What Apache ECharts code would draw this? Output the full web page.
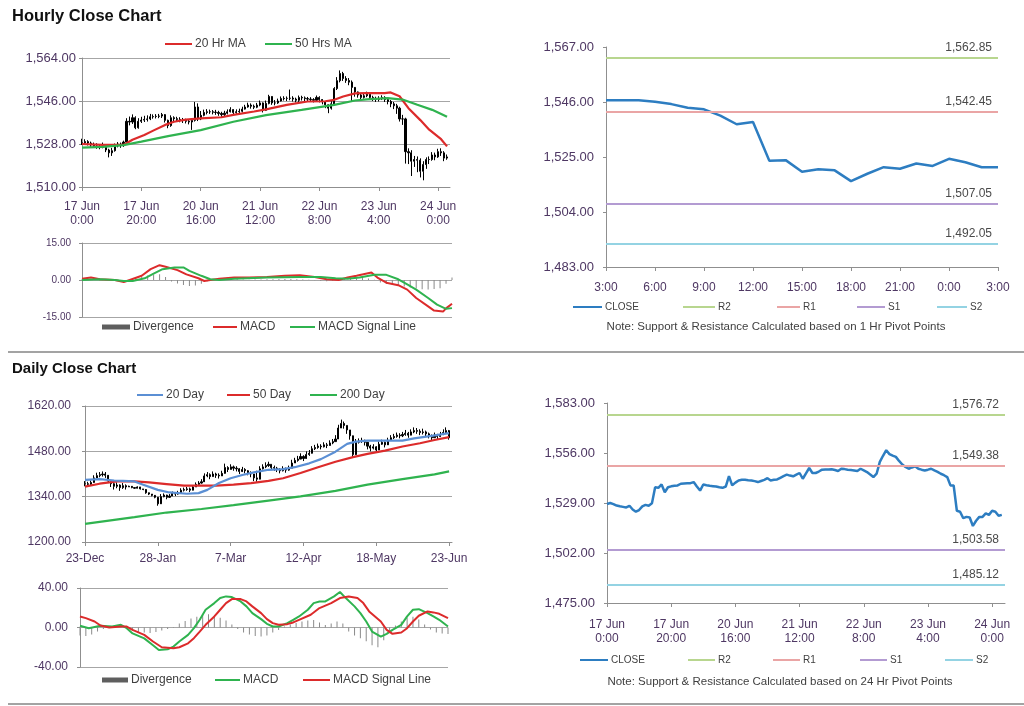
<!DOCTYPE html>
<html><head><meta charset="utf-8">
<script src="https://cdn.jsdelivr.net/npm/echarts@6/dist/echarts.min.js"></script>
<style>html,body{margin:0;padding:0;background:#fff}#c{width:1024px;height:706px}</style>
</head><body><div id="c"></div>
<script>
// ---------- tick labels ----------
const hourTicks = ['17 Jun\n0:00','17 Jun\n20:00','20 Jun\n16:00','21 Jun\n12:00','22 Jun\n8:00','23 Jun\n4:00','24 Jun\n0:00'];
const dayTicks = ['23-Dec','28-Jan','7-Mar','12-Apr','18-May','23-Jun'];
const pivotTicks = ['3:00','6:00','9:00','12:00','15:00','18:00','21:00','0:00','3:00'];

// ---------- hourly data ----------
const hClose = [1528.5,1529,1528.4,1527.6,1527.2,1526.9,1526.6,1527.5,1525.5,1524.3,
1525.2,1527.2,1528,1527.5,1528.8,1537.5,1537.2,1539,1534.8,1537.5,
1538,1538.3,1538.5,1539.4,1539.5,1539.6,1539.7,1540.3,1537.9,1535.7,
1539,1538.6,1538.3,1538.1,1537.9,1537.5,1537.2,1537.9,1543.5,1538.5,
1540,1541.2,1541.5,1541.5,1541.3,1541.2,1540.8,1540.3,1540.9,1541.5,
1542.4,1541.2,1541.5,1541.7,1542.6,1543.5,1544.3,1543.8,1543.4,1544.3,
1545.2,1542.1,1545,1547.9,1545.2,1545.2,1546,1547,1547.1,1547.1,
1547.2,1546.8,1546.3,1547.5,1547.3,1547,1546.8,1546.6,1546.3,1547.5,
1546.6,1545.7,1544.4,1543,1544.8,1551.2,1554.5,1557.5,1555.4,1554.6,
1553.9,1551.7,1549.8,1548.5,1547.5,1548.2,1548.8,1547.5,1547,1546.6,
1547,1547.5,1546.6,1545.8,1544.8,1544,1543,1538.5,1538.5,1524.8,
1524.3,1520.8,1521.5,1521.2,1516.6,1519.4,1521.5,1521.5,1523.4,1522.6,
1524.8,1524.3,1522.1,1522.6];
const hHigh = [1530.2,1530.0,1529.6,1529.0,1528.6,1528.3,1528.0,1528.6,1527.8,1526.0,
1526.4,1528.2,1528.8,1528.6,1529.4,1538.8,1539.5,1540.4,1539.6,1538.8,
1539.4,1539.8,1540.0,1540.6,1540.4,1540.5,1540.6,1541.0,1540.5,1538.2,
1540.0,1539.6,1539.4,1539.2,1538.9,1538.6,1538.4,1538.6,1545.6,1545.0,
1541.8,1542.4,1542.6,1542.4,1542.2,1542.3,1541.9,1541.5,1541.9,1542.5,
1543.4,1542.6,1542.5,1542.8,1543.6,1544.4,1545.3,1545.0,1544.5,1545.2,
1546.2,1545.4,1546.2,1548.6,1547.8,1546.4,1547.0,1547.9,1548.0,1547.9,
1550.8,1548.0,1547.4,1548.3,1548.2,1547.9,1547.7,1547.6,1547.2,1548.3,
1548.0,1546.8,1545.9,1544.6,1546.0,1551.8,1556.0,1558.8,1558.2,1556.4,
1555.6,1554.6,1551.2,1550.0,1549.3,1549.4,1549.9,1549.2,1548.2,1547.8,
1548.0,1548.4,1548.0,1547.2,1546.4,1545.6,1544.8,1543.6,1540.2,1539.0,
1526.2,1525.4,1523.0,1522.8,1522.0,1520.8,1522.4,1522.8,1524.6,1524.4,
1526.0,1526.2,1525.0,1523.6];
const hLow = [1527.6,1528.0,1527.4,1526.8,1526.4,1526.0,1525.8,1526.2,1524.6,1522.4,
1523.0,1524.8,1526.6,1526.4,1526.8,1528.2,1535.8,1536.4,1534.2,1534.4,
1536.8,1537.2,1537.4,1538.0,1538.6,1538.7,1538.8,1538.9,1537.0,1534.6,
1535.2,1537.6,1537.3,1537.1,1536.8,1536.6,1536.2,1533.9,1537.4,1537.6,
1538.0,1539.6,1540.4,1540.6,1540.4,1540.2,1539.8,1539.4,1539.6,1540.4,
1541.2,1540.4,1540.6,1540.8,1541.2,1542.4,1543.2,1542.8,1542.6,1543.0,
1543.8,1541.2,1541.8,1544.6,1544.4,1544.2,1544.8,1545.8,1546.2,1546.0,
1546.3,1545.8,1545.4,1545.6,1546.2,1546.0,1545.8,1545.6,1545.4,1545.8,
1545.4,1544.6,1543.0,1540.9,1542.4,1544.2,1550.6,1553.8,1554.4,1553.6,
1552.6,1545.8,1547.8,1547.4,1546.6,1547.0,1547.6,1546.4,1546.0,1545.6,
1545.8,1546.4,1545.6,1544.6,1543.4,1542.6,1540.6,1537.4,1536.0,1519.8,
1519.6,1514.6,1518.4,1516.2,1514.0,1512.8,1517.6,1519.6,1521.0,1521.2,
1522.2,1523.0,1520.8,1521.4];
const hMA20 = [[0,1528],[7,1527.6],[14,1527.6],[17,1529.8],[21,1531.8],[24,1533.6],[28,1536],[31,1537.3],[35,1538.2],[40,1538.7],[47,1539.2],[51,1540.2],[58,1541.6],[62,1542.5],[69,1544.4],[76,1545.8],[82,1545.9],[85,1546.5],[88,1547.9],[92,1549.2],[96,1549.3],[102,1549.3],[104,1549.6],[107,1548],[110,1543],[114,1538],[117,1534],[121,1530],[123,1527]];
const hMA50 = [[0,1526.5],[7,1526.8],[14,1527.5],[20,1529],[29,1531.3],[40,1533.8],[51,1537.3],[62,1540.1],[74,1542.3],[85,1544.4],[92,1546.2],[96,1546.7],[103,1547.2],[108,1546.6],[113,1544.4],[118,1542.3],[123,1539.4]];
const hMACD = [[0,0.5],[3,1],[6,0.3],[11,0],[14,-0.8],[16,0],[20,1.7],[23,4.4],[26,6],[28,5.4],[32,4],[35,2.3],[39,0.7],[41,-0.4],[43,0],[46,0.5],[51,1],[56,1],[62,1.2],[68,1.7],[73,1.9],[78,1.2],[82,0.3],[86,0],[89,1],[92,1.7],[97,3],[99,1],[102,-1.1],[106,-2.1],[109,-3.9],[112,-7.3],[116,-10.7],[118,-12.4],[121,-12.8],[122,-11.5],[124,-9.6]];
const hSignal = [[0,0],[6,0.3],[11,0],[14,-0.4],[17,-0.4],[21,0.7],[24,2.6],[27,4.4],[31,5.1],[34,5.1],[36,3.7],[40,1.7],[43,0.3],[46,0],[51,0.5],[62,1],[73,1.2],[80,1.2],[85,0.7],[89,0.5],[93,1],[98,2.1],[102,2.1],[106,0.3],[109,-1.8],[112,-3.9],[116,-7.3],[119,-10],[122,-11.7],[124,-11.4]];
const hDiv = [[0,0.3],[2,0.4],[4,0.2],[6,0.1],[8,-0.1],[10,-0.2],[12,-0.3],[14,-0.4],[16,0.3],[18,0.8],[20,1.2],[22,1.8],[24,2.1],[26,2.3],[28,1.2],[30,-0.6],[32,-1.4],[34,-2],[36,-2.4],[38,-2.2],[40,-1.5],[42,-0.5],[44,0.2],[46,0.3],[48,0.3],[50,0.2],[52,0.3],[54,0.2],[56,0.1],[58,0.2],[60,0.2],[62,0.3],[64,0.3],[66,0.4],[68,0.4],[70,0.4],[72,0.3],[74,0.2],[76,0.1],[78,-0.1],[80,-0.4],[82,-0.5],[84,-0.4],[86,-0.3],[88,0.3],[90,0.5],[92,0.6],[94,0.8],[96,0.6],[98,0.1],[100,-1],[102,-1.6],[104,-2],[106,-2.3],[108,-2.6],[110,-3],[112,-3.4],[114,-3.8],[116,-3.9],[118,-3.6],[120,-3.3],[122,-1.5],[124,1]];
const pivotClose1h = [1546.7,1546.7,1546.7,1546.1,1545.2,1543.8,1543.2,1540.8,1537.5,1538.4,1523.6,1523.8,1519.4,1520.3,1519.9,1515.8,1518.6,1521.1,1520.5,1522.5,1521.6,1524.3,1523,1521.1,1521.1];
const levels1h = [1562.85,1542.45,1507.05,1492.05];

// ---------- daily data ----------
const dClose = [1380,1378,1384,1398,1405,1408,1410,1406,1388,1380,
1372,1376,1368,1374,1370,1372,1368,1366,1370,1364,
1362,1352,1348,1344,1338,1318,1340,1345,1338,1342,
1350,1348,1352,1360,1362,1364,1360,1370,1378,1382,
1386,1404,1408,1402,1410,1406,1404,1412,1430,1424,
1432,1428,1426,1418,1424,1420,1414,1410,1398,1394,
1426,1432,1436,1440,1430,1428,1424,1420,1426,1422,
1428,1444,1452,1456,1464,1458,1470,1474,1488,1492,
1496,1494,1500,1498,1506,1510,1518,1552,1566,1560,
1546,1528,1470,1508,1512,1514,1508,1496,1490,1494,
1484,1502,1508,1500,1514,1522,1526,1530,1528,1532,
1536,1530,1540,1544,1542,1538,1540,1534,1528,1522,
1530,1526,1532,1538,1544,1522];
const dHigh = [1388,1386,1390,1406,1414,1416,1418,1416,1404,1390,
1382,1384,1378,1382,1378,1374,1370,1368,1372,1366,
1364,1355,1351,1347,1341,1330,1348,1350,1346,1348,
1356,1354,1358,1366,1368,1370,1368,1376,1384,1388,
1394,1412,1416,1412,1418,1414,1412,1420,1442,1434,
1440,1436,1434,1428,1432,1428,1422,1418,1408,1420,
1434,1440,1446,1448,1440,1436,1432,1428,1434,1430,
1436,1454,1460,1466,1474,1468,1480,1484,1496,1500,
1504,1502,1508,1506,1514,1518,1530,1562,1578,1572,
1560,1546,1520,1518,1520,1522,1516,1506,1500,1502,
1496,1510,1516,1510,1522,1530,1534,1538,1536,1540,
1546,1540,1548,1554,1552,1548,1550,1544,1538,1532,
1538,1534,1540,1548,1554,1546];
const dLow = [1372,1372,1376,1390,1398,1400,1402,1398,1382,1370,
1362,1366,1358,1364,1362,1370,1366,1364,1368,1362,
1360,1349,1345,1341,1335,1312,1334,1338,1332,1336,
1344,1342,1346,1354,1356,1358,1354,1362,1372,1376,
1380,1396,1400,1394,1402,1398,1396,1404,1422,1416,
1424,1420,1418,1410,1416,1412,1406,1400,1388,1386,
1418,1424,1428,1432,1422,1420,1416,1412,1418,1414,
1420,1436,1444,1448,1456,1450,1462,1466,1480,1484,
1488,1486,1492,1490,1498,1502,1510,1540,1556,1550,
1534,1516,1462,1500,1504,1506,1498,1486,1480,1486,
1476,1494,1500,1492,1506,1514,1518,1522,1520,1524,
1528,1522,1532,1536,1534,1530,1532,1526,1520,1514,
1522,1518,1524,1530,1536,1516];
const dMA20 = [[0,1392],[5,1394],[10,1390],[13,1389],[17,1387],[20,1377],[25,1361],[29,1353],[35,1349],[39,1351],[42,1361],[46,1382],[50,1397],[54,1407],[58,1415],[63,1423],[68,1425],[72,1431],[77,1443],[81,1456],[86,1479],[90,1503],[93,1510],[97,1513],[103,1513],[109,1513],[113,1520],[119,1528],[125,1536]];
const dMA50 = [[0,1371],[5,1380],[11,1387],[17,1387],[22,1384],[28,1379],[34,1374],[40,1374],[45,1374],[51,1377],[57,1382],[63,1389],[68,1397],[74,1413],[80,1431],[86,1448],[92,1462],[97,1472],[103,1482],[109,1495],[115,1505],[120,1515],[125,1524]];
const dMA200 = [[0,1256],[17,1277],[28,1291],[40,1302],[51,1314],[63,1328],[74,1341],[86,1358],[97,1377],[109,1394],[120,1409],[125,1418]];
const dMACD = [[0,1.7],[3,-0.7],[7,1.7],[11,1],[14,2.7],[16,-0.7],[18,-6],[22,-11],[25,-18],[27,-22.7],[30,-22],[32,-19.3],[34,-14.2],[37,-7.5],[39,-0.7],[41,7.8],[43,18],[46,24.7],[48,29.8],[50,31.5],[52,30.8],[55,26.4],[57,21.4],[59,14.6],[62,8.5],[64,3.7],[66,1],[68,1],[71,4.4],[73,7.8],[75,11.2],[78,18],[80,24.7],[82,26.4],[84,26.4],[87,31.5],[89,35.9],[91,29.8],[94,21.4],[96,14.6],[98,6.1],[100,-4.1],[103,-9.2],[105,-6.4],[107,-2.4],[110,2.7],[112,11.2],[114,18],[116,18.6],[119,14.6],[121,11.2],[123,7.8],[126,1]];
const dSignal = [[0,11.2],[2,9.5],[5,6.1],[7,2],[10,0],[14,1],[16,1],[18,-2.4],[22,-7.5],[25,-14.2],[28,-20],[32,-21],[34,-20],[37,-16],[39,-10.8],[41,-4.1],[43,2.7],[46,11.2],[48,18],[50,24.7],[52,28.8],[55,28.8],[57,26.4],[59,21.4],[62,14.6],[64,8.5],[66,4.4],[68,2.7],[71,3.4],[73,5.1],[75,7.8],[79,12.9],[82,19.7],[86,24.7],[89,29.8],[92,31.5],[95,29.8],[97,24.7],[99,16.3],[103,6.1],[105,-2.4],[107,-6.4],[110,-5.1],[112,-0.7],[114,6.1],[116,11.9],[119,16.3],[121,15.3],[123,13.9],[126,9.5]];
const dDiv = [[0,-8],[2,-8.5],[4,-7],[6,-4],[8,-1.5],[10,0.5],[12,1],[14,0.8],[16,-1.5],[18,-3.5],[20,-4.5],[22,-5],[24,-5.5],[26,-4.5],[28,-3],[30,-1.5],[32,0.5],[34,4],[36,6.5],[38,9],[40,11],[42,13],[44,13.5],[46,12],[48,10],[50,7],[52,3],[54,-1.5],[56,-5],[58,-7],[60,-8.5],[62,-9],[64,-8],[66,-5],[68,-2.5],[70,1],[72,3],[74,4.5],[76,6],[78,7],[80,7.5],[82,5],[84,2.5],[86,4],[88,6],[90,4],[92,-4],[94,-8],[96,-11],[98,-14],[100,-18],[102,-20],[104,-13],[106,-4],[108,2],[110,6],[112,10],[114,11],[116,8],[118,3],[120,-2],[122,-5],[124,-6],[126,-6.5]];
const levels24h = [1576.72,1549.38,1503.58,1485.12];
const levelNames = ['R2','R1','S1','S2'];

// ---------- styling ----------
const FF = "'Liberation Sans', Arial, sans-serif";
const C = {red:'#dc2b2b', green:'#2fb34f', blue:'#5b8fd4', close:'#2d7dc1',
  lv:['#b8d68f','#eaa5a5','#b39bd2','#94d3e3'], div:'#8a8a8a', divLeg:'#5e5e5e',
  axis:'#8f8f8f', grid:'#a6a6a6', lab:'#4e3763', txt:'#3f3f3f'};
const comma2 = v => Number(v).toLocaleString('en-US',{minimumFractionDigits:2,maximumFractionDigits:2});
const fix2 = v => Number(v).toFixed(2);

const hCats = Array.from({length:125},(_,i)=>String(i));
const dCats = Array.from({length:127},(_,i)=>String(i));
const pCats = pivotClose1h.map((_,i)=>String(i));

const hOHLC = hClose.map((c,i)=>[i?hClose[i-1]:c, c, hLow[i], hHigh[i]]);
const dOHLC = dClose.map((c,i)=>[i?dClose[i-1]:c, c, dLow[i], dHigh[i]]);

function xCat(grid, data, step, labels, show, fs, margin) {
  const f = i => i % step === 0;
  return {type:'category', gridIndex:grid, data, boundaryGap:false,
    axisLine:{show:show, onZero:false, lineStyle:{color:C.axis}},
    axisTick:{show:show, interval:f, length:4, lineStyle:{color:C.axis}},
    axisLabel:{show:show, interval:f, formatter:(v,i)=>labels[i/step]||'', color:C.lab, fontSize:fs, lineHeight:14, margin, fontFamily:FF},
    splitLine:{show:false}};
}
function yVal(grid, min, max, interval, fmt, fs, margin, split) {
  return {type:'value', gridIndex:grid, min, max, interval, scale:true,
    axisLine:{show:true, lineStyle:{color:C.axis}},
    axisTick:{show:true, length:3, lineStyle:{color:C.axis}},
    axisLabel:{formatter:fmt, color:C.lab, fontSize:fs, margin, fontFamily:FF},
    splitLine:{show:split, lineStyle:{color:C.grid}}};
}
const lineS = (name, x, data, color, w) => ({name, type:'line', xAxisIndex:x, yAxisIndex:x, data, color,
  showSymbol:false, symbol:'none', lineStyle:{color, width:w}, silent:true});
const candle = (x, data) => ({type:'candlestick', xAxisIndex:x, yAxisIndex:x, data, barWidth:1.6, large:false, silent:true,
  itemStyle:{color:'#000', color0:'#000', borderColor:'#000', borderColor0:'#000', borderWidth:1}});
const divS = (x, data) => ({name:'Divergence', type:'bar', xAxisIndex:x, yAxisIndex:x, data, barWidth:1, color:C.div, itemStyle:{color:C.div}, silent:true});
const levelS = (x, i, v) => ({name:levelNames[i], type:'line', xAxisIndex:x, yAxisIndex:x, data:[], color:C.lv[i],
  lineStyle:{color:C.lv[i]}, markLine:{silent:true, symbol:'none', animation:false,
    data:[{yAxis:v}], lineStyle:{color:C.lv[i], width:2, type:'solid'},
    label:{position:'insideEndTop', formatter:()=>comma2(v), color:'#4a4a4a', fontSize:12, fontFamily:FF, distance:[6,4]}}});

function leg(name, left, top, color, w, h, fs) {
  return {data:[{name, icon:'rect', itemStyle:{color}}], left, top, padding:0, itemWidth:w, itemHeight:h,
    itemGap:4, selectedMode:false, textStyle:{color:C.txt, fontSize:fs, fontFamily:FF, padding:[0,0,0,-2]}};
}

const series = [
  candle(0, hOHLC),
  lineS('20 Hr MA', 0, hMA20, C.red, 2.2),
  lineS('50 Hrs MA', 0, hMA50, C.green, 2.2),
  divS(1, hDiv),
  lineS('MACD', 1, hMACD, C.red, 2),
  lineS('MACD Signal Line', 1, hSignal, C.green, 2),
  lineS('CLOSE', 2, pivotClose1h, C.close, 2.5),
  ...levels1h.map((v,i)=>levelS(2,i,v)),
  candle(3, dOHLC),
  lineS('200 Day', 3, dMA200, C.green, 2.2),
  lineS('50 Day', 3, dMA50, C.red, 2.2),
  lineS('20 Day', 3, dMA20, C.blue, 2.2),
  divS(4, dDiv),
  lineS('MACD', 4, dMACD, C.green, 2),
  lineS('MACD Signal Line', 4, dSignal, C.red, 2),
  lineS('CLOSE', 5, hClose, C.close, 2.5),
  ...levels24h.map((v,i)=>levelS(5,i,v))
];

const option = {
  animation:false,
  textStyle:{fontFamily:FF},
  grid:[
    {left:82, top:58, width:368, height:129},
    {left:82, top:243, width:370, height:74},
    {left:606, top:47, width:392, height:220},
    {left:85, top:406, width:367, height:136},
    {left:80, top:588, width:368, height:79},
    {left:607, top:403, width:398, height:200}
  ],
  xAxis:[
    xCat(0, hCats, 20, hourTicks, true, 12, 13),
    xCat(1, hCats, 20, hourTicks, false, 12, 8),
    xCat(2, pCats, 3, pivotTicks, true, 12, 14),
    xCat(3, dCats, 25, dayTicks, true, 12, 10),
    xCat(4, dCats, 25, dayTicks, false, 12, 8),
    xCat(5, hCats, 20, hourTicks, true, 12, 15)
  ],
  yAxis:[
    yVal(0, 1510, 1564, 18, comma2, 13, 6, true),
    yVal(1, -15, 15, 15, fix2, 10, 11, true),
    yVal(2, 1483, 1567, 21, comma2, 13, 12, false),
    yVal(3, 1200, 1620, 140, fix2, 12, 14, true),
    yVal(4, -40, 40, 40, fix2, 12, 12, true),
    yVal(5, 1475, 1583, 27, comma2, 13, 12, false)
  ],
  legend:[
    leg('20 Hr MA', 165, 38, C.red, 27, 2, 12),
    leg('50 Hrs MA', 265, 38, C.green, 27, 2, 12),
    leg('Divergence', 102, 321, C.divLeg, 28, 5, 12),
    leg('MACD', 213, 321, C.red, 24, 2, 12),
    leg('MACD Signal Line', 290, 321, C.green, 25, 2, 12),
    leg('CLOSE', 573, 302, C.close, 29, 2, 10),
    leg('R2', 683, 302, C.lv[0], 32, 2, 10),
    leg('R1', 777, 302, C.lv[1], 23, 2, 10),
    leg('S1', 857, 302, C.lv[2], 28, 2, 10),
    leg('S2', 937, 302, C.lv[3], 30, 2, 10),
    leg('20 Day', 137, 389, C.blue, 26, 2, 12),
    leg('50 Day', 227, 389, C.red, 23, 2, 12),
    leg('200 Day', 310, 389, C.green, 27, 2, 12),
    leg('Divergence', 102, 674, C.divLeg, 26, 5, 12),
    leg('MACD', 215, 674, C.green, 25, 2, 12),
    leg('MACD Signal Line', 303, 674, C.red, 27, 2, 12),
    leg('CLOSE', 580, 655, C.close, 28, 2, 10),
    leg('R2', 688, 655, C.lv[0], 27, 2, 10),
    leg('R1', 773, 655, C.lv[1], 27, 2, 10),
    leg('S1', 860, 655, C.lv[2], 27, 2, 10),
    leg('S2', 945, 655, C.lv[3], 28, 2, 10)
  ],
  graphic:[
    {type:'text', x:12, y:16, style:{text:'Hourly Close Chart', font:"bold 16.5px 'Liberation Sans'", fill:'#111', verticalAlign:'middle'}},
    {type:'text', x:12, y:369, style:{text:'Daily Close Chart', font:"bold 15px 'Liberation Sans'", fill:'#111', verticalAlign:'middle'}},
    {type:'rect', shape:{x:8, y:351, width:1016, height:2}, style:{fill:'#a3a3a3'}},
    {type:'rect', shape:{x:8, y:703, width:1016, height:2}, style:{fill:'#a3a3a3'}},
    {type:'text', x:776, y:327, style:{text:'Note: Support & Resistance Calculated based on 1 Hr Pivot Points', font:"11.5px 'Liberation Sans'", fill:C.txt, align:'center', verticalAlign:'middle'}},
    {type:'text', x:780, y:682, style:{text:'Note: Support & Resistance Calculated based on 24 Hr Pivot Points', font:"11.5px 'Liberation Sans'", fill:C.txt, align:'center', verticalAlign:'middle'}}
  ],
  series
};
const chart = echarts.init(document.getElementById('c'), null, {renderer:'canvas'});
chart.setOption(option);
</script></body></html>
